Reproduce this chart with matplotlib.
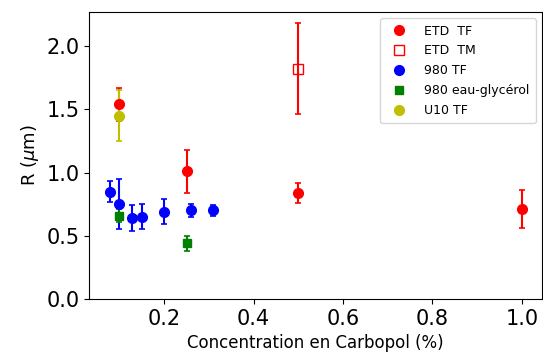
import matplotlib
matplotlib.use("Agg")
import matplotlib.pyplot as plt
from matplotlib.lines import Line2D

# ETD TF
etd_tf_x = [0.10, 0.25, 0.50, 1.00]
etd_tf_y = [1.54, 1.01, 0.84, 0.71]
etd_tf_e = [0.13, 0.17, 0.08, 0.15]
# ETD TM
etd_tm_x = [0.50]
etd_tm_y = [1.82]
etd_tm_e = [0.36]
# 980 TF
b980_x = [0.078, 0.10, 0.128, 0.15, 0.20, 0.26, 0.31]
b980_y = [0.85, 0.75, 0.64, 0.65, 0.69, 0.70, 0.70]
b980_e = [0.08, 0.20, 0.10, 0.10, 0.10, 0.05, 0.04]
# 980 eau-glycérol
g980_x = [0.10, 0.25]
g980_y = [0.66, 0.44]
g980_e = [0.05, 0.06]
# U10 TF
u10_x = [0.10]
u10_y = [1.45]
u10_e = [0.20]

labels = ['ETD  TF', 'ETD  TM', '980 TF', '980 eau-glycérol', 'U10 TF']

fig = plt.figure(figsize=(5.43, 3.53), dpi=100)
ax = fig.add_axes([0.164, 0.153, 0.834, 0.813])

kw = dict(linestyle='none', capsize=2, elinewidth=1.5, capthick=1.2)
series = [
    (etd_tf_x, etd_tf_y, etd_tf_e, 'o', 'red', 'red', 7),
    (etd_tm_x, etd_tm_y, etd_tm_e, 's', 'red', 'none', 7),
    (b980_x, b980_y, b980_e, 'o', 'blue', 'blue', 7),
    (g980_x, g980_y, g980_e, 's', 'green', 'green', 6),
    (u10_x, u10_y, u10_e, 'o', '#bfbf00', '#bfbf00', 7),
]
handles = []
for (x, y, e, m, c, fc, ms), lab in zip(series, labels):
    ax.errorbar(x, y, yerr=e, fmt=m, color=c, mfc=fc, ms=ms, **kw)
    handles.append(Line2D([], [], linestyle='none', marker=m, color=c, mfc=fc, ms=ms))

ax.set_xlim(0.032, 1.045)
ax.set_ylim(0.0, 2.27)
ax.set_xticks([0.2, 0.4, 0.6, 0.8, 1.0])
ax.set_yticks([0.0, 0.5, 1.0, 1.5, 2.0])
ax.tick_params(labelsize=15)
ax.set_xlabel('Concentration en Carbopol (%)', fontsize=12)
ax.set_ylabel(r'R ($\mu$m)', fontsize=13)

ax.legend(handles, labels, loc='upper right', fontsize=9, handletextpad=1.0,
          handlelength=2.0, borderpad=0.5, labelspacing=0.55)

fig.savefig('out.png', dpi=100)
